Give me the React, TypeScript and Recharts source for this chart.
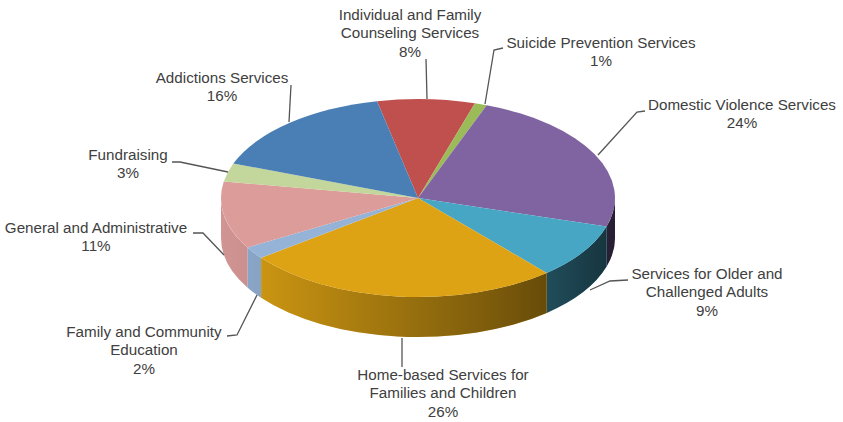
import { PieChart, Pie } from "recharts";

const categories = [
  "Individual and Family\nCounseling Services",
  "Suicide Prevention Services",
  "Domestic Violence Services",
  "Services for Older and\nChallenged Adults",
  "Home-based Services for\nFamilies and Children",
  "Family and Community\nEducation",
  "General and Administrative",
  "Fundraising",
  "Addictions Services",
];
const shares = [8, 1, 24, 9, 26, 2, 11, 3, 16];
const colors = ["#c0504d", "#9bbb59", "#8064a2", "#46a6c4", "#dea314", "#95b3d7", "#dc9c9a", "#c3d69b", "#4a7fb5"];

const chartData = categories.map((name, i) => ({ name, value: shares[i], fill: colors[i] }));

// where each callout sits: text centre, first baseline, leader polyline
const callouts = [
  { x: 410, y: 20, leader: "427,99 426,59" },
  { x: 601, y: 48, leader: "485,104 494,50 503,48" },
  { x: 742, y: 110, leader: "598,155 637,112 645,111" },
  { x: 707, y: 279, leader: "590,290 610,281 628,280" },
  { x: 443, y: 380, leader: "402,338 402,367" },
  { x: 144, y: 337, leader: "257,295 237,335 227,336" },
  { x: 96, y: 233, leader: "224,255 203,233 193,233" },
  { x: 128, y: 160, leader: "228,172 180,162 172,162" },
  { x: 222, y: 83, leader: "289,122 291,85" },
];

const TILT = 99 / 197;
const DEPTH = 40;
const LINE_HEIGHT = 18.3;

const rimPoint = (cx: number, cy: number, rx: number, ry: number, deg: number) => {
  const rad = (deg * Math.PI) / 180;
  return { x: cx + rx * Math.cos(rad), y: cy - ry * Math.sin(rad) };
};

// flattened pie slice
const TopFace = (props: any) => {
  const { cx, cy, outerRadius, startAngle, endAngle, fill } = props;
  const ry = outerRadius * TILT;
  const a = rimPoint(cx, cy, outerRadius, ry, startAngle);
  const b = rimPoint(cx, cy, outerRadius, ry, endAngle);
  const large = Math.abs(startAngle - endAngle) > 180 ? 1 : 0;
  const d = `M${cx},${cy}L${a.x},${a.y}A${outerRadius},${ry} 0 ${large} 1 ${b.x},${b.y}Z`;
  return <path d={d} fill={fill} />;
};

// side wall, only the part of the slice facing the viewer (angles 0 to -180)
const SideWall = (props: any) => {
  const { cx, cy, outerRadius, startAngle, endAngle, fill } = props;
  const hi = Math.min(startAngle, 0);
  const lo = Math.max(endAngle, -180);
  if (hi <= lo) return null;
  const ry = outerRadius * TILT;
  const a = rimPoint(cx, cy, outerRadius, ry, hi);
  const b = rimPoint(cx, cy, outerRadius, ry, lo);
  const d =
    `M${a.x},${a.y}A${outerRadius},${ry} 0 0 1 ${b.x},${b.y}` +
    `L${b.x},${b.y + DEPTH}A${outerRadius},${ry} 0 0 0 ${a.x},${a.y + DEPTH}Z`;
  return (
    <g>
      <path d={d} fill={fill} />
      <path d={d} fill="url(#wallShade)" />
    </g>
  );
};

const Callout = (props: any) => {
  const { index, name, value } = props;
  const spot = callouts[index];
  const lines = [...String(name).split("\n"), `${value}%`];
  return (
    <g>
      <polyline points={spot.leader} fill="none" stroke="#555555" strokeWidth={1.3} />
      <text
        x={spot.x}
        y={spot.y}
        textAnchor="middle"
        fill="#404040"
        fontSize={15.2}
        fontFamily="'Liberation Sans', Arial, sans-serif"
      >
        {lines.map((line, i) => (
          <tspan key={i} x={spot.x} y={spot.y + i * LINE_HEIGHT}>
            {line}
          </tspan>
        ))}
      </text>
    </g>
  );
};

export default function App() {
  return (
    <div style={{ position: "absolute", left: 0, top: 0, background: "#ffffff" }}>
      <PieChart width={843} height={422} margin={{ top: 0, right: 0, bottom: 0, left: 0 }}>
        <defs>
          <linearGradient id="wallShade" gradientUnits="userSpaceOnUse" x1={221} y1={0} x2={615} y2={0}>
            <stop offset="0%" stopColor="#000000" stopOpacity={0.05} />
            <stop offset="12%" stopColor="#000000" stopOpacity={0.1} />
            <stop offset="45%" stopColor="#000000" stopOpacity={0.3} />
            <stop offset="70%" stopColor="#000000" stopOpacity={0.45} />
            <stop offset="83%" stopColor="#000000" stopOpacity={0.54} />
            <stop offset="100%" stopColor="#000000" stopOpacity={0.7} />
          </linearGradient>
        </defs>
        <Pie
          data={chartData}
          dataKey="value"
          nameKey="name"
          cx={418}
          cy={198}
          outerRadius={197}
          startAngle={102}
          endAngle={-258}
          shape={SideWall}
          isAnimationActive={false}
        />
        <Pie
          data={chartData}
          dataKey="value"
          nameKey="name"
          cx={418}
          cy={198}
          outerRadius={197}
          startAngle={102}
          endAngle={-258}
          shape={TopFace}
          label={Callout}
          labelLine={false}
          isAnimationActive={false}
        />
      </PieChart>
    </div>
  );
}
